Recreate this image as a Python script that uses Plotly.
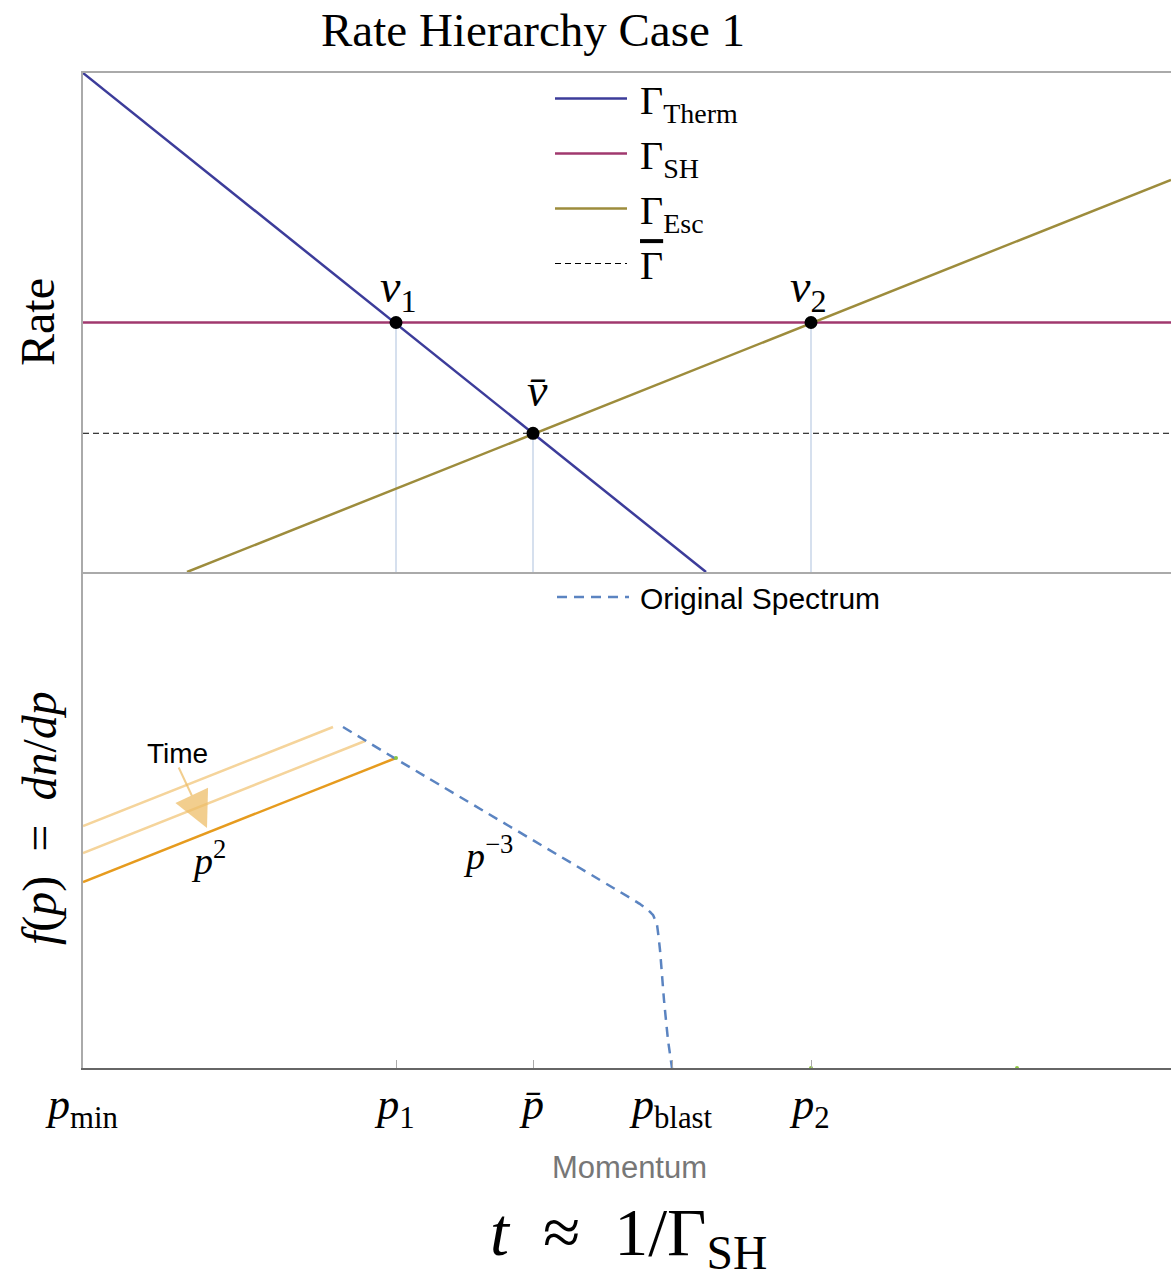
import plotly.graph_objects as go

# ---------------- data (log-momentum / log-rate, arbitrary units) ----------------
x_max = 10.88
tick_pos = [0.0, 3.13, 4.50, 5.89, 7.28]
tick_text = ["<i>p</i><sub>min</sub>", "<i>p</i><sub>1</sub>", "<i>p\u0304</i>",
             "<i>p</i><sub>blast</sub>", "<i>p</i><sub>2</sub>"]

therm_x = [0.0, 6.23]
therm_y = [5.0, 0.0]
sh_x = [0.0, 10.88]
sh_y = [2.5, 2.5]
esc_x = [1.04, 10.88]
esc_y = [0.0, 3.93]
gbar_x = [0.0, 10.88]
gbar_y = [1.39, 1.39]

cross_x = [3.13, 4.50, 7.28]
cross_y = [2.5, 1.39, 2.5]
cross_labels = ["<i>v</i><sub>1</sub>", "<i>v\u0304</i>", "<i>v</i><sub>2</sub>"]

orig_x = [2.60, 3.13, 5.57, 5.65, 5.70, 5.74, 5.77, 5.81, 5.85, 5.89]
orig_y = [3.41, 3.09, 1.64, 1.58, 1.53, 1.43, 1.18, 0.68, 0.28, 0.0]

now_x = [0.0, 3.13]
now_y = [1.86, 3.10]
early1_x = [0.0, 2.82]
early1_y = [2.15, 3.27]
early2_x = [0.0, 2.50]
early2_y = [2.42, 3.41]

green_x = [3.13, 7.28, 9.34]
green_y = [3.10, 0.0, 0.0]

# ---------------- styling ----------------
SERIF = "Liberation Serif"
C_THERM = "#3c3c9a"
C_SH = "#a0386e"
C_ESC = "#9d8c3c"
C_ORIG = "#5b84c1"
C_ORANGE = "#e69b1e"
C_LORANGE = "#f5d49b"
C_DROP = "#c9d6e8"
TS = "\u2009"  # thin space before legend labels

fig = go.Figure()

# drop lines (top)
for cx, cy in zip(cross_x, cross_y):
    fig.add_trace(go.Scatter(x=[cx, cx], y=[0, cy], mode="lines",
                             line=dict(color=C_DROP, width=1.5), showlegend=False,
                             xaxis="x2", yaxis="y", hoverinfo="skip"))

fig.add_trace(go.Scatter(x=therm_x, y=therm_y, mode="lines", name=TS + "\u0393<sub>Therm</sub>",
                         line=dict(color=C_THERM, width=2.5), xaxis="x2", yaxis="y",
                         legend="legend", legendgroup="a"))
fig.add_trace(go.Scatter(x=sh_x, y=sh_y, mode="lines", name=TS + "\u0393<sub>SH</sub>",
                         line=dict(color=C_SH, width=2.5), xaxis="x2", yaxis="y",
                         legend="legend", legendgroup="b"))
fig.add_trace(go.Scatter(x=esc_x, y=esc_y, mode="lines", name=TS + "\u0393<sub>Esc</sub>",
                         line=dict(color=C_ESC, width=2.5), xaxis="x2", yaxis="y",
                         legend="legend", legendgroup="c"))
fig.add_trace(go.Scatter(x=gbar_x, y=gbar_y, mode="lines",
                         name=TS + "<span style=\"text-decoration:overline\">\u0393</span>",
                         line=dict(color="black", width=1, dash="6px,4px"), xaxis="x2", yaxis="y",
                         legend="legend", legendgroup="d"))
fig.add_trace(go.Scatter(x=cross_x, y=cross_y, mode="markers",
                         marker=dict(color="black", size=13), showlegend=False,
                         xaxis="x2", yaxis="y"))

# bottom panel
fig.add_trace(go.Scatter(x=early2_x, y=early2_y, mode="lines", line=dict(color=C_LORANGE, width=2.5),
                         showlegend=False, xaxis="x", yaxis="y2"))
fig.add_trace(go.Scatter(x=early1_x, y=early1_y, mode="lines", line=dict(color=C_LORANGE, width=2.5),
                         showlegend=False, xaxis="x", yaxis="y2"))
fig.add_trace(go.Scatter(x=now_x, y=now_y, mode="lines", line=dict(color=C_ORANGE, width=2.5),
                         showlegend=False, xaxis="x", yaxis="y2"))
fig.add_trace(go.Scatter(x=orig_x, y=orig_y, mode="lines", name=TS + "Original Spectrum",
                         line=dict(color=C_ORIG, width=2.5, dash="10px,7px", shape="spline", smoothing=0.3),
                         xaxis="x", yaxis="y2", legend="legend2"))
fig.add_trace(go.Scatter(x=green_x, y=green_y, mode="markers", marker=dict(color="#8cc63f", size=4),
                         showlegend=False, xaxis="x", yaxis="y2", cliponaxis=False))

W0, W1, H0, H1 = 83, 1171, 73, 1068
def px(xp):
    return (xp - W0) / (W1 - W0)
def py(yp):
    return (H1 - yp) / (H1 - H0)

split = py(572)
C = dict(xanchor="center", yanchor="middle", showarrow=False)

ann = []
# crossing labels
label_off = [(0.02, 0.33), (0.04, 0.43), (-0.03, 0.33)]
for cx, cy, t, (dx, dy) in zip(cross_x, cross_y, cross_labels, label_off):
    ann.append(dict(x=cx + dx, y=cy + dy, xref="x2", yref="y", text=t,
                    font=dict(family=SERIF, size=46, color="black"), **C))
# slope labels
ann.append(dict(x=1.25, y=2.1, xref="x", yref="y2", text="<i>p</i><sup>2</sup>",
                font=dict(family=SERIF, size=38, color="black"), **C))
ann.append(dict(x=4.05, y=2.15, xref="x", yref="y2", text="<i>p</i><sup>\u22123</sup>",
                font=dict(family=SERIF, size=38, color="black"), **C))
# Time arrow
ann.append(dict(x=1.24, y=2.40, ax=0.95, ay=3.02, xref="x", yref="y2", axref="x", ayref="y2",
                text="", showarrow=True, arrowhead=2, arrowsize=3.6, arrowwidth=2,
                arrowcolor="rgba(238,190,105,0.75)"))
ann.append(dict(x=0.94, y=3.15, xref="x", yref="y2", text="Time",
                font=dict(family="Arial", size=28, color="black"), **C))
# titles
ann.append(dict(x=px(533), y=py(30), xref="paper", yref="paper", text="Rate Hierarchy Case 1",
                font=dict(family=SERIF, size=47, color="black"), **C))
ann.append(dict(x=px(38), y=py(322), xref="paper", yref="paper", text="Rate", textangle=-90,
                font=dict(family=SERIF, size=48, color="black"), **C))
ann.append(dict(x=px(40), y=py(818), xref="paper", yref="paper",
                text="<i>f</i>(<i>p</i>)\u2002=\u2002<i>dn</i>/<i>dp</i>", textangle=-90,
                font=dict(family=SERIF, size=48, color="black"), **C))
ann.append(dict(x=px(628), y=py(1236), xref="paper", yref="paper",
                text="<i>t</i>\u2002\u2248\u20021/\u0393<sub>SH</sub>",
                font=dict(family=SERIF, size=68, color="black"), **C))
ann.append(dict(x=px(629), y=py(1167), xref="paper", yref="paper", text="Momentum",
                font=dict(family="Arial", size=31, color="#777777"), **C))

fig.update_layout(
    width=1171, height=1288,
    margin=dict(l=W0, r=0, t=H0, b=1288 - H1),
    paper_bgcolor="white", plot_bgcolor="white",
    xaxis=dict(domain=[0, 1], range=[0, x_max], anchor="y2", showline=True, linecolor="#666666",
               linewidth=1.5, ticks="inside", ticklen=8, tickcolor="#aaaaaa", tickvals=tick_pos,
               ticktext=tick_text, ticklabelstandoff=-4, showgrid=False, zeroline=False,
               tickfont=dict(family=SERIF, size=44, color="black")),
    xaxis2=dict(domain=[0, 1], range=[0, x_max], matches="x", anchor="y", showline=True,
                linecolor="#aaaaaa", linewidth=1.5, mirror=True, showticklabels=False, ticks="",
                showgrid=False, zeroline=False),
    yaxis=dict(domain=[split, 1], range=[0, 5.0], showline=True, linecolor="#aaaaaa", linewidth=1.5,
               showticklabels=False, ticks="", showgrid=False, zeroline=False),
    yaxis2=dict(domain=[0, split], range=[0, 4.96], showline=True, linecolor="#aaaaaa", linewidth=1.5,
                showticklabels=False, ticks="", showgrid=False, zeroline=False),
    legend=dict(x=px(550), y=py(66), xanchor="left", yanchor="top", bgcolor="rgba(0,0,0,0)",
                font=dict(family=SERIF, size=40, color="black"), itemwidth=72, tracegroupgap=0),
    legend2=dict(x=px(552), y=py(571), xanchor="left", yanchor="top", bgcolor="rgba(0,0,0,0)",
                 font=dict(family="Arial", size=30, color="black"), itemwidth=72),
    annotations=ann,
    showlegend=True,
)

fig.write_html("out.html")
